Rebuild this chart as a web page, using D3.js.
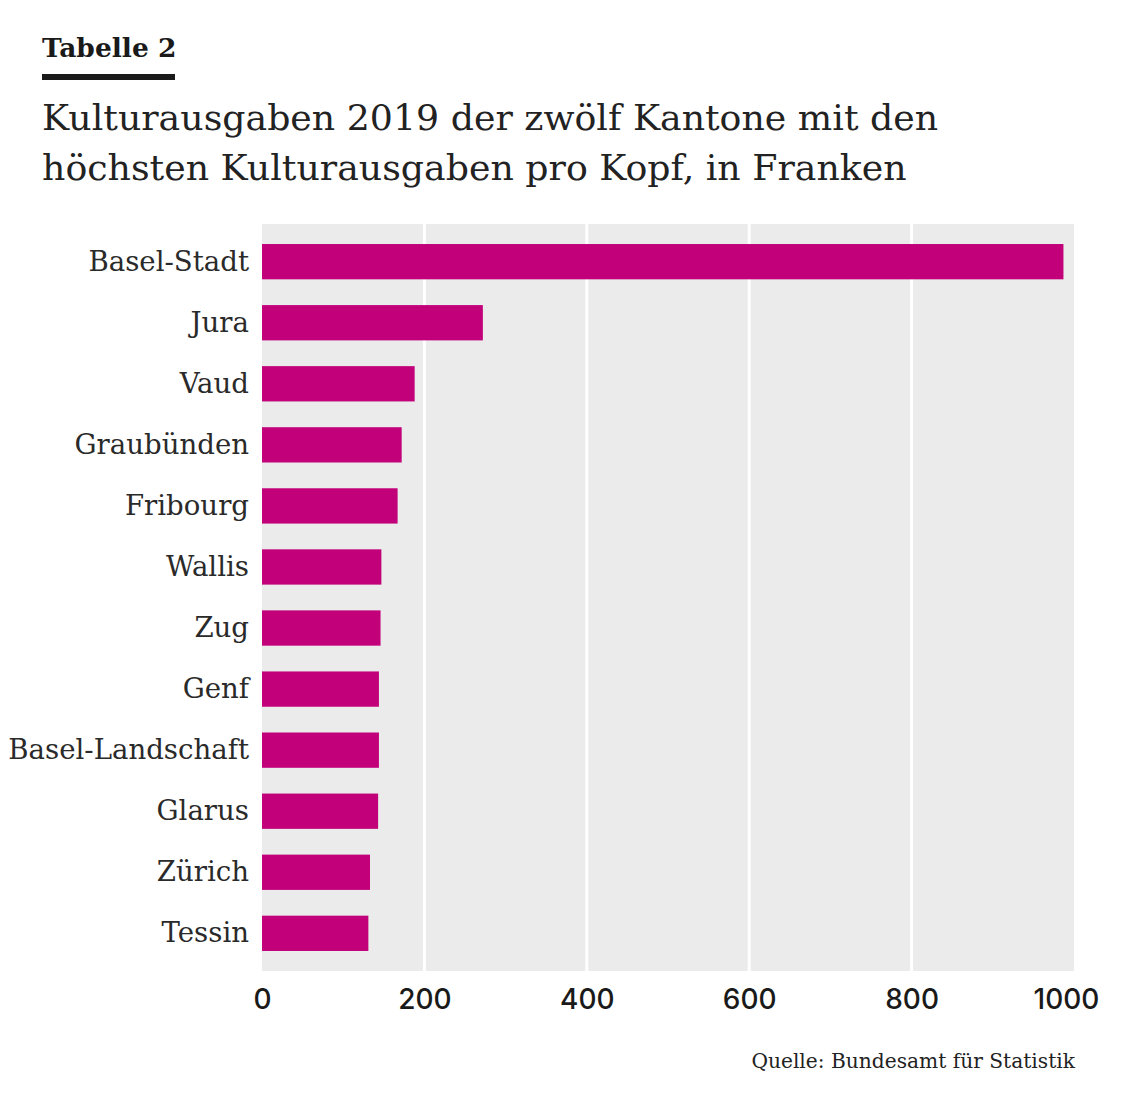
<!DOCTYPE html>
<html>
<head>
<meta charset="utf-8">
<script src="https://cdn.jsdelivr.net/npm/d3@7"></script>
<style>
  body { margin: 0; background: #fff; }
  svg { display: block; }
</style>
</head>
<body>
<div id="chart"></div>
<script>
// Daten: Kulturausgaben pro Kopf 2019 (Franken)
const kantone = ['Basel-Stadt', 'Jura', 'Vaud', 'Graubünden', 'Fribourg', 'Wallis',
                 'Zug', 'Genf', 'Basel-Landschaft', 'Glarus', 'Zürich', 'Tessin'];
const ausgaben = [987, 272, 188, 172, 167, 147, 146, 144, 144, 143, 133, 131];
const xTicks = [0, 200, 400, 600, 800, 1000];

const titelZeilen = ['Kulturausgaben 2019 der zwölf Kantone mit den',
                     'höchsten Kulturausgaben pro Kopf, in Franken'];

const W = 1128, H = 1110;
const margin = {top: 224, right: 54, bottom: 139, left: 262};
const width = W - margin.left - margin.right;
const height = H - margin.top - margin.bottom;

const slab = "'DejaVu Serif', 'Liberation Serif', serif";

const svg = d3.select('#chart')
    .append('svg')
    .attr('width', W)
    .attr('height', H);

// Kopf
svg.append('text')
    .attr('x', 42)
    .attr('y', 57)
    .attr('font-family', slab)
    .attr('font-weight', 'bold')
    .attr('font-size', '26.5px')
    .attr('fill', '#1a1a1a')
    .text('Tabelle 2');

svg.append('rect')
    .attr('x', 42)
    .attr('y', 74)
    .attr('width', 133)
    .attr('height', 6)
    .attr('fill', '#1a1a1a');

svg.selectAll('.titel')
    .data(titelZeilen)
    .enter()
    .append('text')
    .attr('class', 'titel')
    .attr('x', 42)
    .attr('y', (d, i) => 130 + i * 50)
    .attr('font-family', slab)
    .attr('font-size', '36.3px')
    .attr('fill', '#222')
    .text(d => d);

const g = svg.append('g')
    .attr('transform', `translate(${margin.left},${margin.top})`);

// Skalen
const x = d3.scaleLinear()
    .domain([0, 1000])
    .range([0, width]);

const y = d3.scaleBand()
    .domain(kantone)
    .range([0, height])
    .paddingInner(0.422)
    .paddingOuter(0.328);

// Hintergrund
g.append('rect')
    .attr('width', width)
    .attr('height', height)
    .attr('fill', '#ebebeb');

// Gitterlinien
g.selectAll('.grid')
    .data(xTicks.slice(1, -1))
    .enter()
    .append('line')
    .attr('class', 'grid')
    .attr('x1', d => x(d))
    .attr('x2', d => x(d))
    .attr('y1', 0)
    .attr('y2', height)
    .attr('stroke', '#fff')
    .attr('stroke-width', 3);

// Balken
g.selectAll('.bar')
    .data(ausgaben)
    .enter()
    .append('rect')
    .attr('class', 'bar')
    .attr('x', 0)
    .attr('y', (d, i) => y(kantone[i]))
    .attr('width', d => x(d))
    .attr('height', y.bandwidth())
    .attr('fill', '#c1007a');

// Kategorien-Achse
const yAxis = g.append('g')
    .call(d3.axisLeft(y).tickSize(0).tickPadding(13));
yAxis.select('.domain').remove();
yAxis.selectAll('text')
    .attr('font-family', slab)
    .attr('font-size', '27.6px')
    .attr('fill', '#2a2a2a');

// Werte-Achse
const xAxis = g.append('g')
    .attr('transform', `translate(0,${height})`)
    .call(d3.axisBottom(x).tickValues(xTicks).tickSize(0).tickPadding(18).tickFormat(d3.format('d')));
xAxis.select('.domain').remove();
xAxis.selectAll('text')
    .attr('font-family', "Inter, 'Open Sans', sans-serif")
    .attr('font-weight', 500)
    .attr('font-size', '28px')
    .attr('fill', '#1a1a1a')
    // letzte Beschriftung etwas nach innen, wie im Original
    .attr('dx', d => d === 1000 ? -8 : 0);

// Quelle
svg.append('text')
    .attr('x', 1075)
    .attr('y', 1068)
    .attr('text-anchor', 'end')
    .attr('font-family', slab)
    .attr('font-size', '20.2px')
    .attr('fill', '#222')
    .text('Quelle: Bundesamt für Statistik');
</script>
</body>
</html>
